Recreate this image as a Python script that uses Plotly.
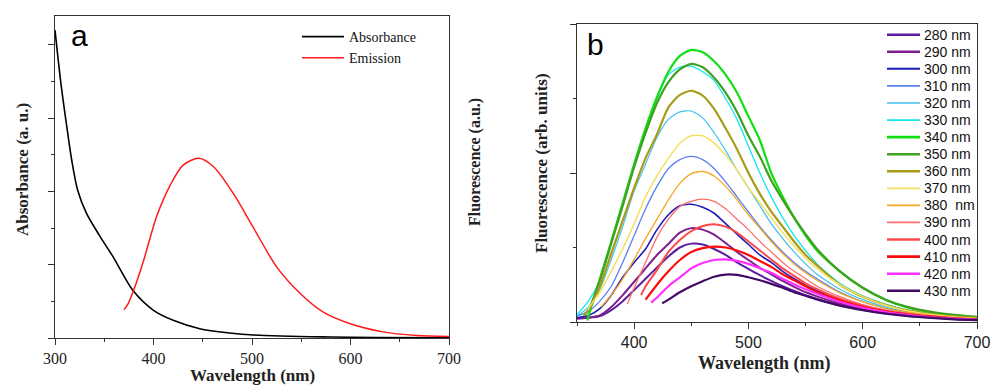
import plotly.graph_objects as go

W, H = 992, 387

# ---------------- Panel a data ----------------
wl_abs = [300, 306, 312, 317, 323, 332, 346, 359, 379, 400, 420, 447, 498, 582, 700]
absorbance = [0.956, 0.791, 0.656, 0.552, 0.459, 0.387, 0.314, 0.252, 0.148, 0.086,
              0.055, 0.029, 0.010, 0.003, 0.001]
wl_em = [370, 374, 380, 390, 403, 417, 430, 446, 461, 481, 501, 525, 549, 572, 599,
         633, 667, 700]
emission = [0.088, 0.105, 0.150, 0.241, 0.376, 0.475, 0.537, 0.558, 0.532, 0.449,
            0.345, 0.221, 0.138, 0.081, 0.045, 0.019, 0.008, 0.005]

# ---------------- Panel b data ----------------
wl_b = [350, 360, 370, 380, 390, 400, 410, 420, 430, 440, 450, 460, 470, 480, 490,
        500, 510, 520, 530, 540, 550, 560, 580, 600, 620, 640, 660, 680, 700]
N = None
f280 = [0.012, 0.014, 0.020, 0.040, 0.070, 0.107, 0.145, 0.183, 0.220, 0.250, 0.263, 0.260, 0.245, 0.225, 0.200,
        0.178, 0.157, 0.138, 0.120, 0.104, 0.090, 0.077, 0.056, 0.041, 0.029, 0.021, 0.015, 0.010, 0.007]
f290 = [0.012, 0.015, 0.022, 0.050, 0.090, 0.135, 0.180, 0.225, 0.262, 0.300, 0.315, 0.310, 0.293, 0.265, 0.235,
        0.208, 0.182, 0.160, 0.138, 0.118, 0.100, 0.086, 0.062, 0.045, 0.032, 0.023, 0.016, 0.011, 0.007]
f300 = [0.015, 0.022, 0.045, 0.090, 0.150, 0.200, 0.245, 0.310, 0.360, 0.390, 0.395, 0.385, 0.365, 0.330, 0.295,
        0.260, 0.225, 0.200, 0.170, 0.145, 0.123, 0.105, 0.075, 0.053, 0.037, 0.026, 0.018, 0.012, 0.008]
f310 = [0.020, 0.035, 0.070, 0.120, 0.200, 0.290, 0.380, 0.455, 0.515, 0.545, 0.556, 0.545, 0.515, 0.470, 0.420,
        0.370, 0.320, 0.275, 0.235, 0.200, 0.170, 0.145, 0.100, 0.068, 0.046, 0.031, 0.021, 0.014, 0.010]
f320 = [0.020, 0.050, 0.110, 0.210, 0.320, 0.440, 0.530, 0.620, 0.680, 0.705, 0.708, 0.685, 0.635, 0.575, 0.510,
        0.450, 0.390, 0.330, 0.280, 0.235, 0.195, 0.160, 0.110, 0.075, 0.050, 0.034, 0.023, 0.016, 0.011]
f330 = [0.025, 0.070, 0.140, 0.260, 0.390, 0.520, 0.640, 0.750, 0.830, 0.855, 0.858, 0.840, 0.810, 0.750, 0.680,
        0.590, 0.500, 0.420, 0.350, 0.290, 0.240, 0.195, 0.130, 0.088, 0.060, 0.040, 0.027, 0.018, 0.012]
f340 = [N, 0.020, 0.145, 0.270, 0.400, 0.530, 0.650, 0.755, 0.840, 0.893, 0.913, 0.905, 0.875, 0.830, 0.770,
        0.690, 0.610, 0.500, 0.420, 0.350, 0.290, 0.240, 0.170, 0.115, 0.075, 0.048, 0.032, 0.022, 0.016]
f350 = [N, 0.040, 0.140, 0.265, 0.390, 0.520, 0.635, 0.735, 0.805, 0.848, 0.866, 0.855, 0.820, 0.770, 0.705,
        0.625, 0.555, 0.475, 0.410, 0.350, 0.295, 0.245, 0.170, 0.115, 0.075, 0.050, 0.034, 0.024, 0.017]
f360 = [N, 0.040, 0.120, 0.230, 0.340, 0.450, 0.550, 0.630, 0.720, 0.762, 0.776, 0.760, 0.715, 0.650, 0.580,
        0.500, 0.430, 0.370, 0.320, 0.270, 0.225, 0.190, 0.125, 0.085, 0.057, 0.038, 0.026, 0.018, 0.013]
f370 = [N, 0.045, 0.100, 0.170, 0.245, 0.330, 0.420, 0.490, 0.550, 0.600, 0.625, 0.625, 0.600, 0.560, 0.510,
        0.450, 0.400, 0.350, 0.300, 0.255, 0.215, 0.180, 0.125, 0.085, 0.056, 0.037, 0.025, 0.017, 0.012]
f380 = [N, N, N, 0.090, 0.145, 0.210, 0.280, 0.345, 0.410, 0.465, 0.498, 0.505, 0.490, 0.455, 0.410,
        0.360, 0.315, 0.270, 0.230, 0.195, 0.165, 0.140, 0.098, 0.068, 0.046, 0.032, 0.022, 0.015, 0.011]
f390 = [N, N, N, N, N, 0.115, 0.200, 0.285, 0.345, 0.388, 0.405, 0.412, 0.405, 0.380, 0.345,
        0.310, 0.270, 0.235, 0.200, 0.170, 0.145, 0.120, 0.085, 0.058, 0.040, 0.028, 0.019, 0.013, 0.009]
f400 = [N, N, N, N, N, N, 0.120, 0.175, 0.235, 0.275, 0.305, 0.322, 0.328, 0.320, 0.300,
        0.270, 0.240, 0.210, 0.180, 0.155, 0.130, 0.110, 0.078, 0.055, 0.038, 0.027, 0.019, 0.013, 0.009]
f410 = [N, N, N, N, N, N, 0.075, 0.125, 0.170, 0.208, 0.235, 0.248, 0.253, 0.250, 0.240,
        0.225, 0.205, 0.185, 0.160, 0.140, 0.120, 0.100, 0.072, 0.050, 0.035, 0.025, 0.018, 0.012, 0.008]
f420 = [N, N, N, N, N, N, N, 0.082, 0.120, 0.150, 0.180, 0.198, 0.208, 0.210, 0.205,
        0.195, 0.180, 0.165, 0.145, 0.127, 0.110, 0.095, 0.068, 0.048, 0.033, 0.023, 0.016, 0.011, 0.007]
f430 = [N, N, N, N, N, N, N, N, 0.075, 0.100, 0.120, 0.137, 0.152, 0.159, 0.158,
        0.150, 0.140, 0.128, 0.115, 0.100, 0.088, 0.076, 0.055, 0.040, 0.028, 0.020, 0.014, 0.009, 0.006]

series_b = [f280, f290, f300, f310, f320, f330, f340, f350, f360, f370, f380, f390, f400, f410, f420, f430]
labels_b = ["280 nm", "290 nm", "300 nm", "310 nm", "320 nm", "330 nm", "340 nm", "350 nm",
            "360 nm", "370 nm", "380\u00a0\u00a0nm", "390 nm", "400 nm", "410 nm", "420 nm", "430 nm"]
onset_wl = [N, N, N, N, N, N, 359, 356, 356, 360, 371, 394, 406, N, 415, 424.5]
onset_val = [N, N, N, N, N, N, 0.005, 0.020, 0.025, 0.040, 0.050, 0.060, 0.090, N, 0.065, 0.063]
colors_b = ["#5a1fa0", "#7f1f8f", "#1c1cb8", "#5a7ff0", "#40c0f0", "#10e8f0", "#10e010", "#40a020",
            "#a89c18", "#f2e060", "#f5a623", "#ff6e6e", "#ff4848", "#ff0a0a", "#ff30ff", "#400a66"]
widths_b = [2.0, 2.0, 1.6, 1.3, 1.2, 1.3, 2.2, 2.2, 2.2, 1.5, 1.3, 1.3, 2.0, 2.2, 2.2, 2.2]

# ---------------- layout geometry (pixels) ----------------
def px(x):
    return x / W


def py(y):
    return 1 - y / H


A_L, A_R, A_T, A_B = 55, 449, 16, 338
B_L, B_R, B_T, B_B = 577, 977, 24, 322

fig = go.Figure()

fig.add_trace(go.Scatter(x=wl_abs, y=absorbance, mode="lines", name="Absorbance",
                         line=dict(color="black", width=1.6, shape="spline", smoothing=0.8),
                         xaxis="x", yaxis="y", legend="legend"))
fig.add_trace(go.Scatter(x=wl_em, y=emission, mode="lines", name="Emission",
                         line=dict(color="#ff1a1a", width=1.5, shape="spline", smoothing=0.8),
                         xaxis="x", yaxis="y", legend="legend"))

for vals, lab, ow, ov, col, lw in zip(series_b, labels_b, onset_wl, onset_val, colors_b, widths_b):
    xs, ys = [], []
    if ow is not None:
        xs.append(ow)
        ys.append(ov)
    for w, v in zip(wl_b, vals):
        if v is not None:
            xs.append(w)
            ys.append(v)
    fig.add_trace(go.Scatter(x=xs, y=ys, mode="lines", name=lab, showlegend=False,
                             line=dict(color=col, width=lw, shape="spline", smoothing=0.7),
                             xaxis="x2", yaxis="y2"))

axcol = "#333333"
serif = "Liberation Serif, Times New Roman, serif"
sans = "Liberation Sans, Arial, sans-serif"

fig.update_layout(
    width=W, height=H,
    margin=dict(l=0, r=0, t=0, b=0, autoexpand=False),
    paper_bgcolor="white", plot_bgcolor="white",
    xaxis=dict(domain=[px(A_L), px(A_R)], range=[300, 700], tickmode="linear", tick0=300, dtick=100,
               ticks="outside", ticklen=6, tickwidth=1.2, tickcolor=axcol,
               minor=dict(ticks="outside", ticklen=3, tick0=300, dtick=50, tickcolor=axcol),
               showline=True, linecolor=axcol, linewidth=1.4, mirror=True, showgrid=False, zeroline=False,
               tickfont=dict(family=serif, size=16, color="#222"), anchor="y", automargin=False),
    yaxis=dict(domain=[py(A_B), py(A_T)], range=[0, 1], tickmode="linear", tick0=0, dtick=0.2275,
               ticks="outside", ticklen=6, tickwidth=1.2, tickcolor=axcol,
               minor=dict(ticks="outside", ticklen=3, tick0=0, dtick=0.11375, tickcolor=axcol),
               showticklabels=False, showline=True, linecolor=axcol, linewidth=1.4, mirror=True,
               showgrid=False, zeroline=False, anchor="x", automargin=False),
    xaxis2=dict(domain=[px(B_L), px(B_R)], range=[350, 700], tickmode="linear", tick0=400, dtick=100,
                ticks="outside", ticklen=6, tickwidth=1.2, tickcolor=axcol,
                minor=dict(ticks="outside", ticklen=3, tick0=350, dtick=50, tickcolor=axcol),
                showline=True, linecolor=axcol, linewidth=1.4, mirror=True, showgrid=False, zeroline=False,
                tickfont=dict(family=sans, size=16, color="#222"), anchor="y2", automargin=False),
    yaxis2=dict(domain=[py(B_B), py(B_T)], range=[0, 1], tickmode="linear", tick0=0, dtick=0.5,
                ticks="outside", ticklen=6, tickwidth=1.2, tickcolor=axcol,
                minor=dict(ticks="outside", ticklen=3, tick0=0, dtick=0.25, tickcolor=axcol),
                showticklabels=False, showline=True, linecolor=axcol, linewidth=1.4, mirror=True,
                showgrid=False, zeroline=False, anchor="x2", automargin=False),
    legend=dict(x=px(297), y=py(21), xanchor="left", yanchor="top", bgcolor="rgba(0,0,0,0)",
                font=dict(family=serif, size=14, color="#111"), tracegroupgap=0, itemwidth=42),
    showlegend=True,
)

ann = []
shapes = []


def label(text, x, y, size, family=serif, angle=0, xanchor="center", color="#222"):
    ann.append(dict(text=text, x=px(x), y=py(y), xref="paper", yref="paper", xanchor=xanchor,
                    yanchor="middle", showarrow=False, textangle=angle,
                    font=dict(family=family, size=size, color=color)))


# axis titles and panel labels
label("<b>Wavelength (nm)</b>", 252, 375, 17)
label("<b>Wavelength (nm)</b>", 764, 363, 18)
label("<b>Absorbance (a. u.)</b>", 22, 170, 17, angle=-90)
label("<b>Fluorescence (a.u.)</b>", 475, 162, 16, angle=-90)
label("<b>Fluorescence (arb. units)</b>", 542, 163, 17, angle=-90)
label("a", 69, 36, 30, family=sans, xanchor="left", color="black")
label("b", 585, 44, 30, family=sans, xanchor="left", color="black")

# panel b legend (manual, tighter spacing than the built-in legend)
for i, (lab, col, lw) in enumerate(zip(labels_b, colors_b, widths_b)):
    yc = 34.7 + i * 17.07
    shapes.append(dict(type="line", xref="paper", yref="paper", x0=px(887), x1=px(920),
                       y0=py(yc), y1=py(yc), line=dict(color=col, width=lw + 0.4)))
    label(lab, 922, yc, 14, family=sans, xanchor="left", color="#111")

fig.update_layout(annotations=ann, shapes=shapes)
fig.write_html("out.html", config={"displayModeBar": False},
               post_script="document.body.style.margin='0';document.body.style.overflow='hidden';")
